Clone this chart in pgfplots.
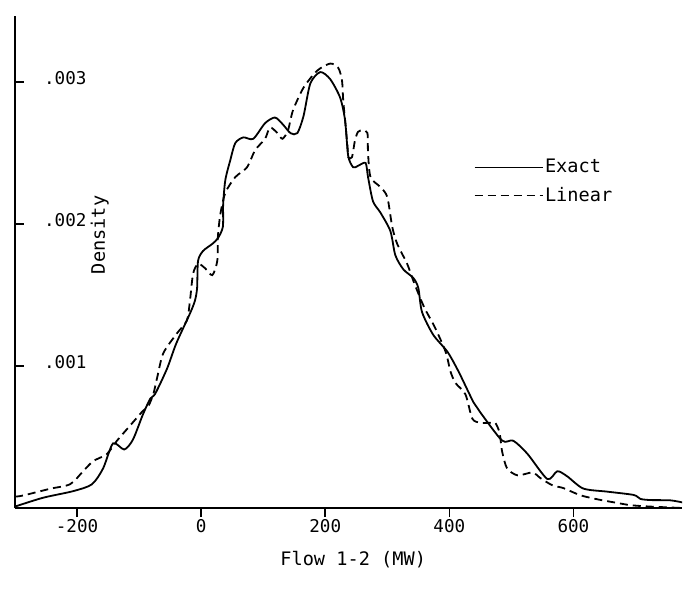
\documentclass[border=0pt]{standalone}
\usepackage{fontspec}
\setmainfont{DejaVu Sans Mono}
\usepackage{pgfplots}
\pgfplotsset{compat=1.18}
\begin{document}
\begin{tikzpicture}
\begin{axis}[
  at={(0pt,0pt)}, anchor=south west,
  scale only axis, width=333.5pt, height=246pt,
  xmin=-300, xmax=775, ymin=0, ymax=0.003465,
  axis x line*=bottom, axis y line*=left,
  axis line style={-, line width=1.1pt},
  xtick={-200,0,200,400,600}, xticklabels={-200,0,200,400,600},
  ytick={0.001,0.002,0.003}, yticklabels={.001,.002,.003},
  tick align=inside, major tick length=4.5pt,
  tick style={line width=0.8pt, black},
  xtick style={yshift=-4.5pt},
  xticklabel style={font=\fontsize{8.8}{10}\selectfont, yshift=-2pt},
  yticklabel style={font=\fontsize{8.8}{10}\selectfont, anchor=west, xshift=11pt, yshift=2pt},
  xlabel={Flow 1-2 (MW)},
  ylabel={Density},
  xlabel style={font=\fontsize{9.3}{11}\selectfont, at={(axis description cs:0.507,0)}, anchor=center, yshift=-26pt},
  ylabel style={font=\fontsize{9.3}{11}\selectfont, at={(axis description cs:0.127,0.555)}, anchor=center},
  legend style={at={(axis description cs:0.687,0.713)}, anchor=north west, draw=none, fill=none,
    font=\fontsize{9.3}{11}\selectfont, row sep=4pt, inner sep=0pt, nodes={inner sep=0.8pt}},
  legend image code/.code={\draw[#1] (0pt,0pt) -- (34pt,0pt);},
  legend cell align=left,
]
\addplot[black, line width=0.9pt, smooth, tension=0.45] coordinates {
(-300,0.00001) (-255,0.000072) (-206,0.000119) (-176,0.000167) (-158,0.000279)
(-142,0.000455) (-124,0.000412) (-110,0.000481) (-94,0.000657) (-82,0.000770)
(-74,0.000805) (-55,0.000981) (-40,0.00116) (-18,0.00137) (-10,0.00146)
(-6.5,0.00155) (-5,0.00174) (3,0.00181) (18,0.00186) (27,0.00190)
(35,0.00198) (35.5,0.00214) (39,0.00231) (47,0.00245) (55,0.00257)
(68,0.00261) (84,0.00260) (103,0.00271) (119,0.00275) (132,0.00270)
(144,0.00264) (155,0.00264) (165,0.00276) (176,0.00299) (192,0.00307)
(208,0.00302) (224,0.00289) (232,0.00273) (237,0.00248) (245,0.00240)
(253,0.00241) (265,0.00243) (269,0.00233) (277,0.00216) (289,0.00208)
(305,0.00195) (313,0.00178) (326,0.00168) (342,0.00162) (350,0.00155)
(356,0.00138) (374,0.00122) (397,0.00110) (415,0.00096) (439,0.000744)
(450,0.000673) (485,0.000475) (503,0.000474) (526,0.000381) (558,0.000204)
(574,0.000259) (590,0.000223) (616,0.000137) (655,0.000115) (697,0.000092)
(708,0.000064) (724,0.000056) (756,0.000054) (776,0.000039)
};
\addlegendentry{Exact}
\addplot[black, line width=0.9pt, dash pattern=on 4pt off 2.5pt, smooth, tension=0.45] coordinates {
(-300,0.00008) (-287,0.000088) (-244,0.000135) (-211,0.000168) (-190,0.000260)
(-174,0.000330) (-152,0.000380) (-136,0.000472) (-115,0.000578) (-94,0.000683)
(-85,0.000718) (-77,0.000803) (-71,0.000916) (-61,0.00109) (-39,0.00123)
(-23,0.00132) (-18,0.00146) (-13,0.00165) (-5,0.00172) (6,0.00169)
(18,0.00164) (26,0.00174) (27,0.00191) (31,0.00207) (39,0.00222)
(55,0.00233) (74,0.00240) (87,0.00252) (103,0.00260) (111,0.00268)
(123,0.00264) (131,0.00260) (140,0.00266) (148,0.00280) (165,0.00296)
(187,0.00308) (208,0.00313) (221,0.00310) (227,0.00301) (229,0.00287)
(232,0.00273) (236,0.00254) (237,0.00247) (243,0.00247) (248,0.00259)
(253,0.00265) (261,0.00266) (268,0.00264) (269,0.00250) (273,0.00233)
(289,0.00226) (300,0.00219) (308,0.00198) (316,0.00186) (332,0.00172)
(342,0.00160) (352,0.00149) (361,0.00140) (377,0.00127) (394,0.00110)
(402,0.00096) (410,0.00088) (426,0.00080) (437,0.00063) (450,0.00060)
(466,0.00060) (474,0.00060) (481,0.00053) (485,0.00040) (493,0.00028)
(510,0.00023) (534,0.00025) (547,0.00021) (566,0.00016) (584,0.00014)
(611,0.00009) (640,0.00006) (665,0.00004) (692,0.00002) (724,0.00001)
(776,0.0)
};
\addlegendentry{Linear}
\end{axis}
\pgfresetboundingbox
\path[use as bounding box] (-7.5pt,-40pt) rectangle (336.5pt,254pt);
\end{tikzpicture}
\end{document}
